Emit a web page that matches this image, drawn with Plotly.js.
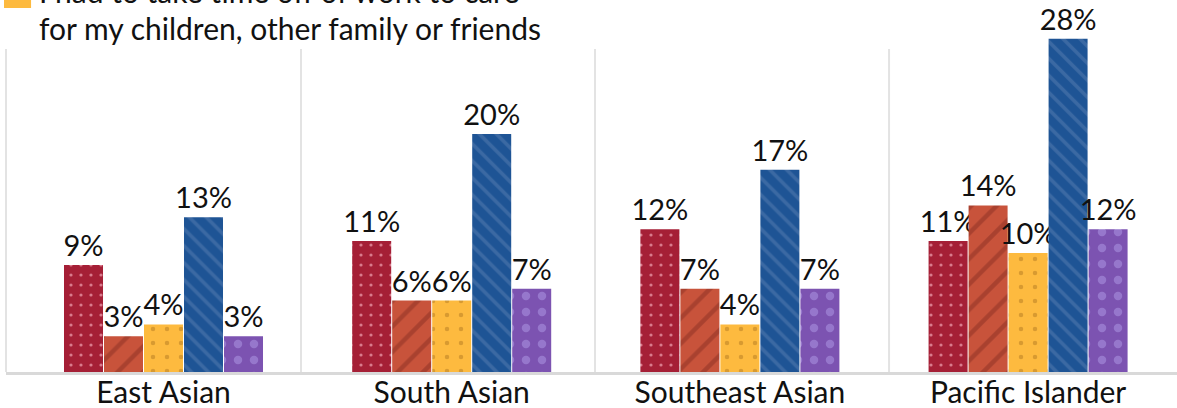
<!DOCTYPE html>
<html>
<head>
<meta charset="utf-8">
<script src="https://cdn.plot.ly/plotly-3.0.1.min.js"></script>
<style>html,body{margin:0;padding:0;background:#fff;}#chart{width:1177px;height:408px;}</style>
</head>
<body>
<div id="chart"></div>
<script>
const categories = ['East Asian', 'South Asian', 'Southeast Asian', 'Pacific Islander'];
const seriesNames = ['Series 1', 'Series 2', 'I had to take time off of work to care for my children, other family or friends', 'Series 4', 'Series 5'];
const series1 = [9, 11, 12, 11];
const series2 = [3, 6, 7, 14];
const series3 = [4, 6, 4, 10];
const series4 = [13, 20, 17, 28];
const series5 = [3, 7, 7, 12];
const legendLine1 = 'I had to take time off of work to care';
const legendLine2 = 'for my children, other family or friends';

const allSeries = [series1, series2, series3, series4, series5];
const colors = ['#A51F36', '#C8533B', '#FDBA3F', '#1E5495', '#7C53B1'];
const patterns = [
  {shape: '.', fgcolor: '#D97A8C', size: 10, solidity: 0.08},
  {shape: '/', fgcolor: '#A9412F', size: 18, solidity: 0.25},
  {shape: '.', fgcolor: '#D89A30', size: 14, solidity: 0.08},
  {shape: '\\', fgcolor: '#3B69A3', size: 12, solidity: 0.3},
  {shape: '.', fgcolor: '#9677CC', size: 16, solidity: 0.22}
];
const xs = categories.map((c, i) => i);
const FONT = 'Lato, "Open Sans", sans-serif';

const traces = allSeries.map((vals, k) => ({
  type: 'bar',
  name: seriesNames[k],
  x: xs,
  y: vals,
  marker: {color: colors[k], line: {width: 0},
           pattern: Object.assign({fillmode: 'overlay', bgcolor: colors[k], fgopacity: 1}, patterns[k])},
  text: vals.map(v => v + '%'),
  textposition: 'outside',
  textfont: {family: FONT, size: 29, color: '#111'},
  constraintext: 'none',
  cliponaxis: false,
  hoverinfo: 'skip',
  showlegend: false
}));

const sepX = [0, 0.2519, 0.503, 0.7541];
const shapes = sepX.map(x => ({
  type: 'line', xref: 'paper', yref: 'paper', x0: x, x1: x, y0: 0, y1: 0.868,
  line: {color: '#e3e3e3', width: 2}, layer: 'below'
}));
shapes.push({type: 'line', xref: 'paper', yref: 'paper', x0: 0, x1: 1, y0: -0.004, y1: -0.004,
  line: {color: '#d9d9d9', width: 3}, layer: 'below'});
shapes.push({type: 'rect', xref: 'paper', yref: 'paper', x0: -0.0017, x1: 0.0214, y0: 0.9785, y1: 1.06,
  fillcolor: colors[2], line: {width: 0}});

const layout = {
  width: 1177, height: 408,
  margin: {l: 6, r: 0, t: 0, b: 36},
  paper_bgcolor: '#fff', plot_bgcolor: '#fff',
  barmode: 'group', bargap: 0.306, bargroupgap: 0.025,
  font: {family: FONT, color: '#111'},
  xaxis: {
    range: [-0.5465, 3.5167], tickvals: xs, ticktext: categories,
    tickfont: {family: FONT, size: 30, color: '#111'},
    ticks: '', ticklabelstandoff: 0,
    showgrid: false, zeroline: false, showline: false, fixedrange: true
  },
  yaxis: {range: [0, 31.26], visible: false, showgrid: false, zeroline: false, fixedrange: true},
  shapes: shapes,
  annotations: [
    {text: legendLine1, xref: 'paper', yref: 'paper', x: 0.0265, y: 1.024, xanchor: 'left', yanchor: 'middle',
     showarrow: false, font: {family: FONT, size: 30, color: '#111'}},
    {text: legendLine2, xref: 'paper', yref: 'paper', x: 0.0265, y: 0.9247, xanchor: 'left', yanchor: 'middle',
     showarrow: false, font: {family: FONT, size: 30, color: '#111'}}
  ],
  showlegend: false
};

Plotly.newPlot('chart', traces, layout, {displayModeBar: false, staticPlot: true});
</script>
</body>
</html>
